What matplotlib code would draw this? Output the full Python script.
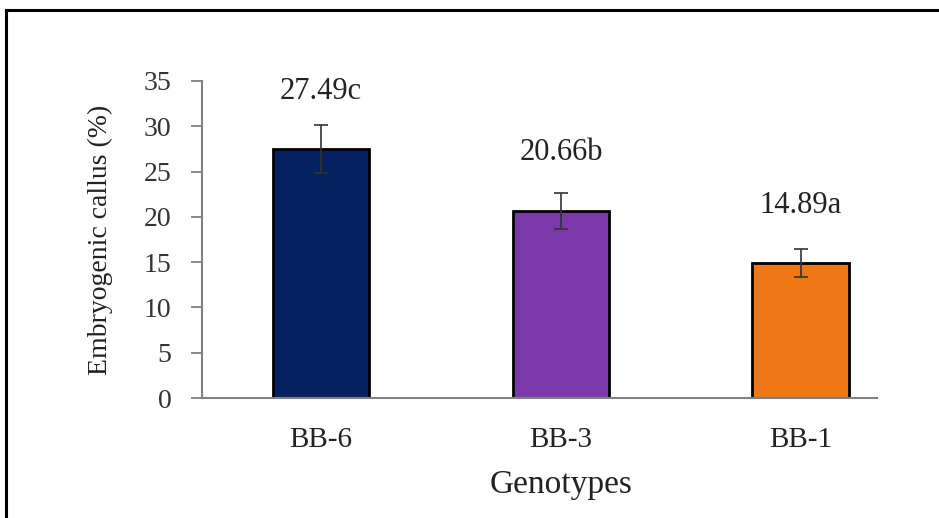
import matplotlib
matplotlib.use("Agg")
import matplotlib.pyplot as plt
from matplotlib.lines import Line2D

genotypes = ["BB-6", "BB-3", "BB-1"]
values = [27.49, 20.66, 14.89]
errors = [2.7, 2.0, 1.55]
letters = ["c", "b", "a"]
colors = ["#06215f", "#7a38a8", "#f07814"]
yticks = [0, 5, 10, 15, 20, 25, 30, 35]

plt.rcParams["font.family"] = ["Liberation Serif", "DejaVu Serif"]

W, H = 939, 518
fig = plt.figure(figsize=(W / 100, H / 100), dpi=100)
fig.patch.set_facecolor("white")

# outer frame (left and top only visible)
fig.add_artist(Line2D([6 / W, 6 / W], [0, 1 - 10 / H], transform=fig.transFigure,
                      color="black", lw=2.2))
fig.add_artist(Line2D([6 / W, 1], [1 - 10 / H, 1 - 10 / H], transform=fig.transFigure,
                      color="black", lw=2.2))

ax = fig.add_axes([202 / W, 1 - 398 / H, 675 / W, 317 / H])
x = list(range(len(genotypes)))
ax.bar(x, values, width=0.404, color=colors, edgecolor="black", linewidth=2, zorder=2)
ax.errorbar(x, values, yerr=errors, fmt="none", ecolor="#333333", elinewidth=1.2,
            capsize=5, capthick=1.2, zorder=3)

for xi, v, l in zip(x, values, letters):
    ax.text(xi, v + 6.4, f"{v:.2f}{l}", ha="center", va="center",
            fontsize=22, color="#222222")

ax.set_xlim(-0.496, 2.317)
ax.set_ylim(0, 35)
ax.set_yticks(yticks)
ax.set_yticklabels([str(t) for t in yticks], fontsize=20, color="#333333")
ax.set_xticks(x)
ax.set_xticklabels(genotypes, fontsize=21, color="#222222")
ax.tick_params(axis="x", length=0, pad=21)
ax.tick_params(axis="y", direction="out", length=8, width=1.3, color="#808080", pad=14)

for s in ["top", "right"]:
    ax.spines[s].set_visible(False)
for s in ["left", "bottom"]:
    ax.spines[s].set_color("#808080")
    ax.spines[s].set_linewidth(1.5)

ax.set_xlabel("Genotypes", fontsize=24, color="#222222", labelpad=12)
# centre the x label under the middle category, as in the reference
xl = ax.get_xlim()
ax.xaxis.label.set_x((1 - xl[0]) / (xl[1] - xl[0]))
ax.set_ylabel("Embryogenic callus (%)", fontsize=20, color="#222222", labelpad=22)

fig.savefig("out.png", dpi=100)
